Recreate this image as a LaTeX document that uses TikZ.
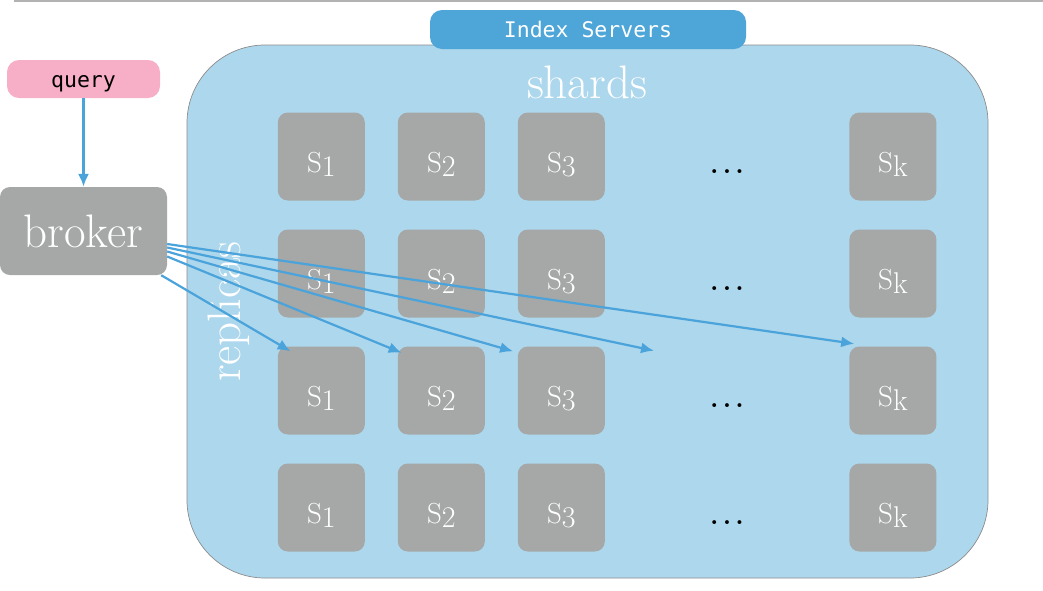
\documentclass[tikz,border=0pt]{standalone}
\usepackage{fontspec}
\newfontfamily\monofont{DejaVu Sans Mono}
\usetikzlibrary{arrows.meta, calc}

\definecolor{paleblue}{HTML}{ADD7EC}
\definecolor{tagblue}{HTML}{4DA5D8}
\definecolor{linkblue}{HTML}{4AA3DA}
\definecolor{boxgray}{HTML}{A5A8A7}
\definecolor{querypink}{HTML}{F7AFC8}

\newcommand{\shardlabel}[1]{{\fontsize{29}{29}\selectfont S}\raisebox{-4pt}{#1}}

\begin{document}
\begin{tikzpicture}
        [
          x=1pt, y=-1pt,
          shard/.style={fill=boxgray, rounded corners=10pt, minimum width=87pt,
            minimum height=88pt, inner sep=0pt, text=white, text height=31pt,
            text depth=0pt, font=\fontsize{30}{30}\selectfont},
          tag/.style={rounded corners=12pt, inner sep=0pt, text height=16.5pt,
            text depth=0pt, font=\monofont\fontsize{21.5}{21.5}\selectfont},
          big/.style={text=white, font=\fontsize{47}{47}\selectfont},
          dots/.style={inner sep=0pt, font=\boldmath\fontsize{24}{24}\selectfont},
          link/.style={draw=linkblue, line width=2.2pt, -{Latex[length=13pt,width=11pt]}}
        ]
        \useasboundingbox (0,0) rectangle (1043,590);
        % top rule
        \draw[black!30, line width=2pt] (14,1) -- (1043,1);
        % index servers
        \node[draw=black!45, line width=0.7pt, fill=paleblue, rounded corners=78pt,
          minimum width=801pt, minimum height=533pt] (servers) at (587.5,311.5) {};
        \node[tag, fill=tagblue, text=white, minimum width=316pt, minimum height=39pt]
          (title) at (588,29.5) {Index Servers};
        \node[big, anchor=base] (shards) at (587,98) {shards};
        \node[big, rotate=90, anchor=base] (replicas) at (240,311.5) {replicas};
        % shard grid
        \foreach \r/\y in {1/156.5,2/273.5,3/390.5,4/507.5} {
            \foreach \c/\x in {1/321.3,2/441.3,3/561.3,k/892.9} {
                \node[shard] (s\r\c) at (\x,\y) {\shardlabel{\c}};
            }
            \node[dots] (dots\r) at (727,\y+15) {$\ldots$};
        }
        % query and broker
        \node[tag, fill=querypink, minimum width=153pt, minimum height=38pt]
          (query) at (83.5,79) {query};
        \node[big, fill=boxgray, rounded corners=10pt, minimum width=167pt,
          minimum height=88pt, inner sep=0pt] (broker) at (83.5,231) {broker};
        % requests
        \coordinate (gap) at (654,350.7);
        \draw[link] (query) -- (broker);
        \draw[link] ($(broker.east)+(0,13)$) -- ($(s3k.north west)+(5,-2.5)$);
        \draw[link] ($(broker.east)+(0,16.5)$) -- (gap);
        \draw[link] ($(broker.east)+(0,20.5)$) -- ($(s33.north west)+(-4.5,5)$);
        \draw[link] ($(broker.east)+(0,25.5)$) -- ($(s32.north west)+(4,6.5)$);
        \draw[link] ($(broker.south east)+(-6,0)$) -- ($(s31.north west)+(13,5)$);
\end{tikzpicture}
\end{document}
